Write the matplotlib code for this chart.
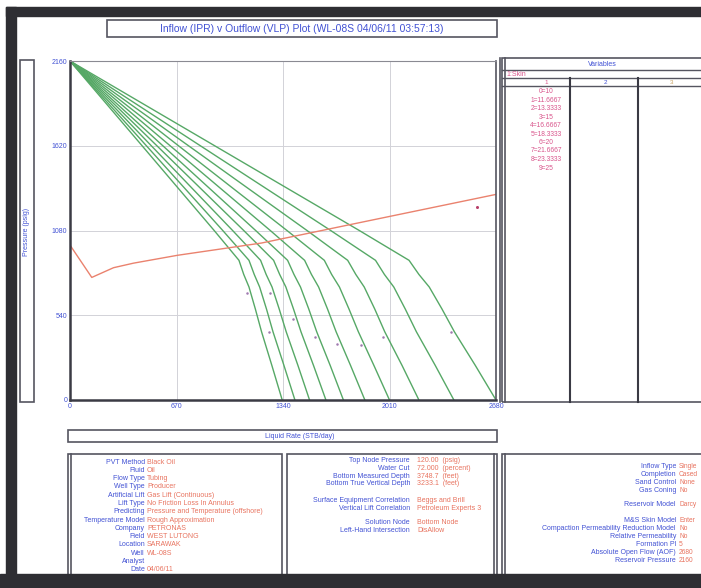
import numpy as np
import matplotlib.pyplot as plt
from matplotlib.patches import Rectangle
from matplotlib.lines import Line2D

plt.rcParams['font.family'] = ['Liberation Sans', 'DejaVu Sans']

# ---------------- datos ----------------
skin = [10, 11.6667, 13.3333, 15, 16.6667, 18.3333, 20, 21.6667, 23.3333, 25]

# curvas IPR: presion comun y caudal de cada curva
ipr_p = [2160, 1080, 890, 800, 720, 580, 435, 220, 0]
ipr_q = [
    [0, 1820, 2133, 2195, 2260, 2340, 2418, 2550, 2680],
    [0, 1640, 1922, 1978, 2037, 2109, 2179, 2298, 2415],
    [0, 1491, 1747, 1798, 1851, 1917, 1980, 2089, 2195],
    [0, 1365, 1600, 1646, 1695, 1755, 1814, 1912, 2010],
    [0, 1260, 1476, 1519, 1564, 1620, 1674, 1765, 1855],
    [0, 1168, 1369, 1409, 1450, 1502, 1552, 1637, 1720],
    [0, 1093, 1281, 1319, 1358, 1406, 1453, 1532, 1610],
    [0, 1023, 1199, 1234, 1271, 1316, 1360, 1434, 1507],
    [0, 961, 1126, 1159, 1193, 1236, 1277, 1346, 1415],
    [0, 907, 1063, 1093, 1126, 1166, 1205, 1270, 1335],
]
# presion donde va el punto marcador de cada curva (None = no se ve)
label_p = [433, None, 401, 350, 357, 401, 516, 682, 433, 682]

# curva VLP
vlp_q = [0, 137, 274, 400, 676, 1204, 1584, 1774, 2680]
vlp_p = [987, 781, 843, 872, 922, 1000, 1080, 1120, 1310]
vlp_label_q = 2560

x_ticks = [0, 670, 1340, 2010, 2680]
y_ticks = [0, 540, 1080, 1620, 2160]

tabla1_etiq = ['PVT Method', 'Fluid', 'Flow Type', 'Well Type', 'Artificial Lift',
               'Lift Type', 'Predicting', 'Temperature Model', 'Company', 'Field',
               'Location', 'Well', 'Analyst', 'Date']
tabla1_val = ['Black Oil', 'Oil', 'Tubing', 'Producer', 'Gas Lift (Continuous)',
              'No Friction Loss In Annulus', 'Pressure and Temperature (offshore)',
              'Rough Approximation', 'PETRONAS', 'WEST LUTONG', 'SARAWAK', 'WL-08S',
              '', '04/06/11']

tabla2_etiq = ['Top Node Pressure', 'Water Cut', 'Bottom Measured Depth',
               'Bottom True Vertical Depth', 'Surface Equipment Correlation',
               'Vertical Lift Correlation', 'Solution Node', 'Left-Hand Intersection']
tabla2_val = ['120.00  (psig)', '72.000  (percent)', '3748.7  (feet)', '3233.1  (feet)',
              'Beggs and Brill', 'Petroleum Experts 3', 'Bottom Node', 'DisAllow']
tabla2_y = [461, 468.5, 476, 483.5, 500, 508, 522, 530]

tabla3_etiq = ['Inflow Type', 'Completion', 'Sand Control', 'Gas Coning',
               'Reservoir Model', 'M&S Skin Model',
               'Compaction Permeability Reduction Model', 'Relative Permeability',
               'Formation PI', 'Absolute Open Flow (AOF)', 'Reservoir Pressure']
tabla3_val = ['Single', 'Cased', 'None', 'No', 'Darcy', 'Enter', 'No', 'No', '5',
              '2680', '2160']
tabla3_y = [466, 474, 482, 490, 505, 521, 529, 537, 545, 553, 561]

# ---------------- colores ----------------
azul = '#4252d4'
rosa = '#d9558c'
salmon = '#e8735f'
verde = '#56a866'
rojo = '#ea826e'
borde = '#555560'

W, H = 701, 588
fig = plt.figure(figsize=(W / 100, H / 100), dpi=100)


def fx(x):
    return x / W


def fy(y):
    return 1 - y / H


def caja(x0, y0, x1, y1, lw=1.2, z=1):
    fig.add_artist(Rectangle((fx(x0), fy(y1)), fx(x1) - fx(x0), fy(y0) - fy(y1),
                             transform=fig.transFigure, fill=False, ec=borde, lw=lw, zorder=z))


def linea(xs, ys, lw=1.2, c=borde, z=1):
    fig.add_artist(Line2D([fx(v) for v in xs], [fy(v) for v in ys],
                          transform=fig.transFigure, color=c, lw=lw, zorder=z))


def texto(x, y, s, **kw):
    kw.setdefault('fontsize', 5)
    kw.setdefault('va', 'center')
    fig.text(fx(x), fy(y), s, **kw)


# ---------------- grafico principal ----------------
ax = fig.add_axes([fx(70), fy(400), fx(496) - fx(70), fy(61) - fy(400)])
for q, lp in zip(ipr_q, label_p):
    ax.plot(q, ipr_p, color=verde, lw=1.0)
    if lp is not None:
        xq = np.interp(lp, ipr_p[::-1], q[::-1])
        ax.plot(xq - 25, lp, 'o', ms=1.8, color='#a07ab0', mec='none')
ax.plot(vlp_q, vlp_p, color=rojo, lw=1.0)
ax.plot(vlp_label_q, np.interp(vlp_label_q, vlp_q, vlp_p) - 55, 'o', ms=2.2,
        color='#b8406a', mec='none')

ax.set_xlim(0, 2680)
ax.set_ylim(0, 2160)
ax.set_xticks(x_ticks)
ax.set_yticks(y_ticks)
ax.grid(True, color='#d2d2d8', lw=0.7)
ax.tick_params(length=0, labelsize=5, labelcolor=azul, pad=2)
ax.spines['left'].set_linewidth(1.8)
ax.spines['bottom'].set_linewidth(1.8)
ax.spines['left'].set_color('#3a3a44')
ax.spines['bottom'].set_color('#3a3a44')
ax.spines['top'].set_linewidth(0.8)
ax.spines['top'].set_color('#8a8a92')
ax.spines['right'].set_linewidth(1.2)
ax.spines['right'].set_color(borde)
linea([500, 500], [58, 402])

# ---------------- marco oscuro del escaneo ----------------
for (x0, y0, x1, y1) in [(6, 7, W, 16), (6, 7, 16, H), (0, 574, W, H)]:
    fig.add_artist(Rectangle((fx(x0), fy(y1)), fx(x1) - fx(x0), fy(y0) - fy(y1),
                             transform=fig.transFigure, color='#2e2e33', zorder=5))

# titulo
caja(107, 20, 497, 37)
texto(302, 28.5, 'Inflow (IPR) v Outflow (VLP) Plot (WL-08S 04/06/11 03:57:13)',
      fontsize=7.5, color=azul, ha='center')

# etiqueta eje y
caja(20, 60, 34, 402)
texto(27, 232, 'Pressure (psig)', rotation=90, color=azul, ha='center', fontsize=5)

# etiqueta eje x
caja(68, 430, 497, 442)
texto(300, 436, 'Liquid Rate (STB/day)', color=azul, ha='center', fontsize=5)

# ---------------- panel de variables ----------------
caja(502, 58, 706, 402)
linea([505, 505], [58, 402])
for yy in [70, 78, 86]:
    linea([502, W], [yy, yy], lw=1.0)
for xx in [570, 638]:
    linea([xx, xx], [78, 402], lw=1.5, c='#3a3a44')
texto(602, 64.5, 'Variables', color=azul, ha='center', fontsize=5)
texto(506, 74, '1:Skin', color=rosa, ha='left', fontsize=5)
for xx, s in zip([546, 605, 672], ['1', '2', '3']):
    texto(xx, 82, s, color='#c8a060' if s == '3' else (azul if s == '2' else rosa),
          ha='center', fontsize=4.5)
for i, s in enumerate(skin):
    texto(546, 91.5 + i * 8.5, f'{i}={s:g}', color=rosa, ha='center', fontsize=4.8)

# ---------------- tablas inferiores ----------------
caja(68, 454, 282, 590)
linea([71, 71], [454, 590])
caja(287, 454, 497, 590)
linea([494, 494], [454, 590])
caja(502, 454, 706, 590)
linea([505, 505], [454, 590])

for i, (e, v) in enumerate(zip(tabla1_etiq, tabla1_val)):
    yy = 462 + i * 8.3
    texto(145, yy, e, color=azul, ha='right')
    texto(147, yy, v, color=salmon, ha='left')

for e, v, yy in zip(tabla2_etiq, tabla2_val, tabla2_y):
    texto(410, yy, e, color=azul, ha='right')
    texto(417, yy, v, color=salmon, ha='left')

for e, v, yy in zip(tabla3_etiq, tabla3_val, tabla3_y):
    texto(676, yy, e, color=azul, ha='right')
    texto(679, yy, v, color=salmon, ha='left', fontsize=4.8)

fig.savefig('out.png', dpi=100)
